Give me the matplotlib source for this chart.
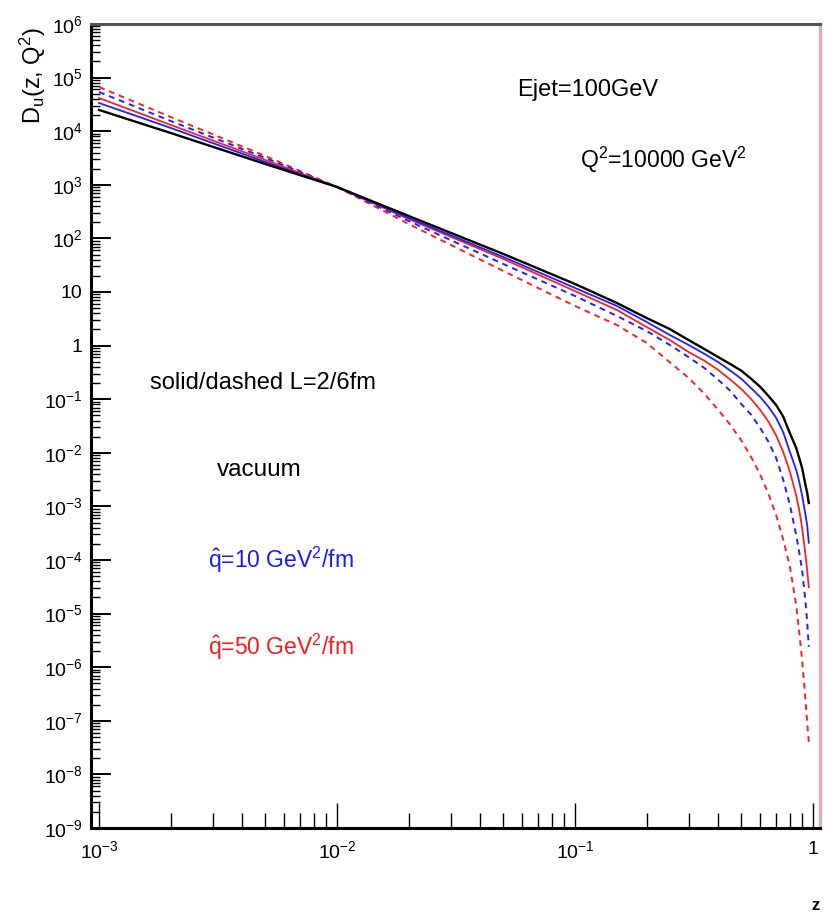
import matplotlib
matplotlib.use("Agg")
import matplotlib.pyplot as plt
import numpy as np
from matplotlib.ticker import LogLocator, FuncFormatter, NullFormatter

# fuente tipo Arial para todo, incluido mathtext
plt.rcParams['font.family'] = ['Liberation Sans', 'DejaVu Sans']
plt.rcParams['mathtext.fontset'] = 'custom'
plt.rcParams['mathtext.rm'] = 'Liberation Sans'
plt.rcParams['mathtext.it'] = 'Liberation Sans:italic'
plt.rcParams['mathtext.bf'] = 'Liberation Sans:bold'

# fraccion de momento z
z = [0.001, 0.002, 0.005, 0.01, 0.02, 0.05, 0.1, 0.15, 0.2, 0.25, 0.3, 0.35,
     0.4, 0.45, 0.5, 0.55, 0.6, 0.65, 0.7, 0.75, 0.8, 0.85, 0.875, 0.9,
     0.93, 0.945, 0.96]

# funcion de fragmentacion D_u(z,Q^2): vacio y medio (L=2fm solido, L=6fm discontinuo)
vacuum = [2.49e4, 9.26e3, 2.44e3, 910, 262, 51.2, 14.1, 6.23, 3.27, 2.04, 1.27, 0.86,
          0.61, 0.45, 0.34, 0.24, 0.17, 0.115, 0.078, 0.047, 0.023, 0.0123, 8.0e-3,
          5.2e-3, 2.5e-3, 1.8e-3, 1.16e-3]
q10_L2 = [3.36e4, 1.15e4, 2.66e3, 910, 240, 45.0, 11.9, 5.48, 2.76, 1.58, 1.03, 0.70,
          0.49, 0.34, 0.24, 0.16, 0.11, 0.072, 0.045, 0.024, 0.0103, 4.8e-3, 2.9e-3,
          1.6e-3, 6.9e-4, 4.5e-4, 2.1e-4]
q50_L2 = [4.16e4, 1.31e4, 2.90e3, 910, 230, 41.3, 10.4, 4.62, 2.22, 1.27, 0.76, 0.52,
          0.35, 0.23, 0.155, 0.10, 0.063, 0.038, 0.021, 0.0103, 4.4e-3, 1.6e-3, 8.6e-4,
          4.0e-4, 1.24e-4, 6.5e-5, 3.1e-5]
q10_L6 = [5.39e4, 1.55e4, 3.16e3, 910, 211, 33.3, 8.42, 3.57, 1.87, 1.03, 0.61, 0.38,
          0.23, 0.142, 0.081, 0.051, 0.029, 0.016, 8.0e-3, 3.1e-3, 1.06e-3, 2.9e-4, 1.4e-4,
          6.5e-5, 1.65e-5, 7.0e-6, 2.4e-6]
q50_L6 = [6.68e4, 1.84e4, 3.45e3, 910, 186, 24.6, 5.48, 2.42, 1.12, 0.49, 0.25, 0.125,
          0.063, 0.033, 0.017, 8.3e-3, 3.9e-3, 1.7e-3, 6.9e-4, 2.4e-4, 7.4e-5, 1.45e-5,
          4.5e-6, 1.36e-6, 2.4e-7, 9.5e-8, 4.0e-8]

fig = plt.figure(figsize=(8.25, 9.15), dpi=100)
ax = fig.add_axes([91/825, 1-828/915, 729/825, 804/915])

dash = (0, (3, 2.5))
ax.plot(z, q50_L6, color='#ff2020', lw=1.4, ls=dash)
ax.plot(z, q10_L6, color='#2020ff', lw=1.4, ls=dash)
ax.plot(z, q50_L2, color='#ff2020', lw=1.3)
ax.plot(z, q10_L2, color='#2020ff', lw=1.3)
ax.plot(z, vacuum, color='black', lw=1.7)

ax.set_xscale('log')
ax.set_yscale('log')
ax.set_xlim(9.25e-4, 1.07)
ax.set_ylim(1e-9, 1e6)

# ejes y marcas estilo ROOT
ax.yaxis.set_major_locator(LogLocator(base=10, numticks=30))
ax.yaxis.set_minor_locator(LogLocator(base=10, subs=np.arange(2, 10), numticks=300))
ax.xaxis.set_major_locator(LogLocator(base=10, numticks=30))
ax.xaxis.set_minor_locator(LogLocator(base=10, subs=np.arange(2, 10), numticks=300))
ax.yaxis.set_minor_formatter(NullFormatter())
ax.xaxis.set_minor_formatter(NullFormatter())

def etiqueta(v, pos):
    e = int(round(np.log10(v)))
    if e == 0:
        return '1'
    if e == 1:
        return '10'
    return r'$\mathrm{10^{%d}}$' % e

ax.yaxis.set_major_formatter(FuncFormatter(etiqueta))
ax.xaxis.set_major_formatter(FuncFormatter(etiqueta))

ax.tick_params(axis='y', which='major', direction='in', length=14.5, width=1.4,
               labelsize=14, pad=6)
ax.tick_params(axis='y', which='minor', direction='in', length=6.5, width=1.0)
ax.tick_params(axis='x', which='major', direction='in', length=18, width=1.0,
               labelsize=14, pad=9)
ax.tick_params(axis='x', which='minor', direction='in', length=11, width=1.0)

ax.spines['left'].set_linewidth(2.2)
ax.spines['bottom'].set_linewidth(2.2)
ax.spines['top'].set_linewidth(2.2)
ax.spines['top'].set_color('#555555')
ax.spines['right'].set_linewidth(2.5)
ax.spines['right'].set_color('#d9b3b3')

# titulos de los ejes
fig.text(33/825, 1-27/915, r'D$_{\mathrm{u}}$(z, Q$^{2}$)', rotation=90,
         ha='center', va='top', fontsize=17)
fig.text(815/825, 1-905/915, 'z', ha='center', va='center', fontsize=12,
         fontweight='bold')

# anotaciones
ax.text(0.584, 0.918, 'Ejet=100GeV', transform=ax.transAxes, fontsize=17,
        va='center', ha='left')
ax.text(0.671, 0.831, r'Q$^{2}$=10000 GeV$^{2}$', transform=ax.transAxes,
        fontsize=16.5, va='center', ha='left')
ax.text(0.081, 0.553, 'solid/dashed L=2/6fm', transform=ax.transAxes,
        fontsize=17, va='center', ha='left')
ax.text(0.173, 0.445, 'vacuum', transform=ax.transAxes, fontsize=17.5,
        va='center', ha='left')
ax.text(0.160, 0.333, r'$\hat{\mathrm{q}}$=10 GeV$^{2}$/fm', transform=ax.transAxes,
        fontsize=16.5, va='center', ha='left', color='#1a1aff')
ax.text(0.160, 0.225, r'$\hat{\mathrm{q}}$=50 GeV$^{2}$/fm', transform=ax.transAxes,
        fontsize=16.5, va='center', ha='left', color='#ff1a1a')

fig.savefig('out.png', dpi=100)
